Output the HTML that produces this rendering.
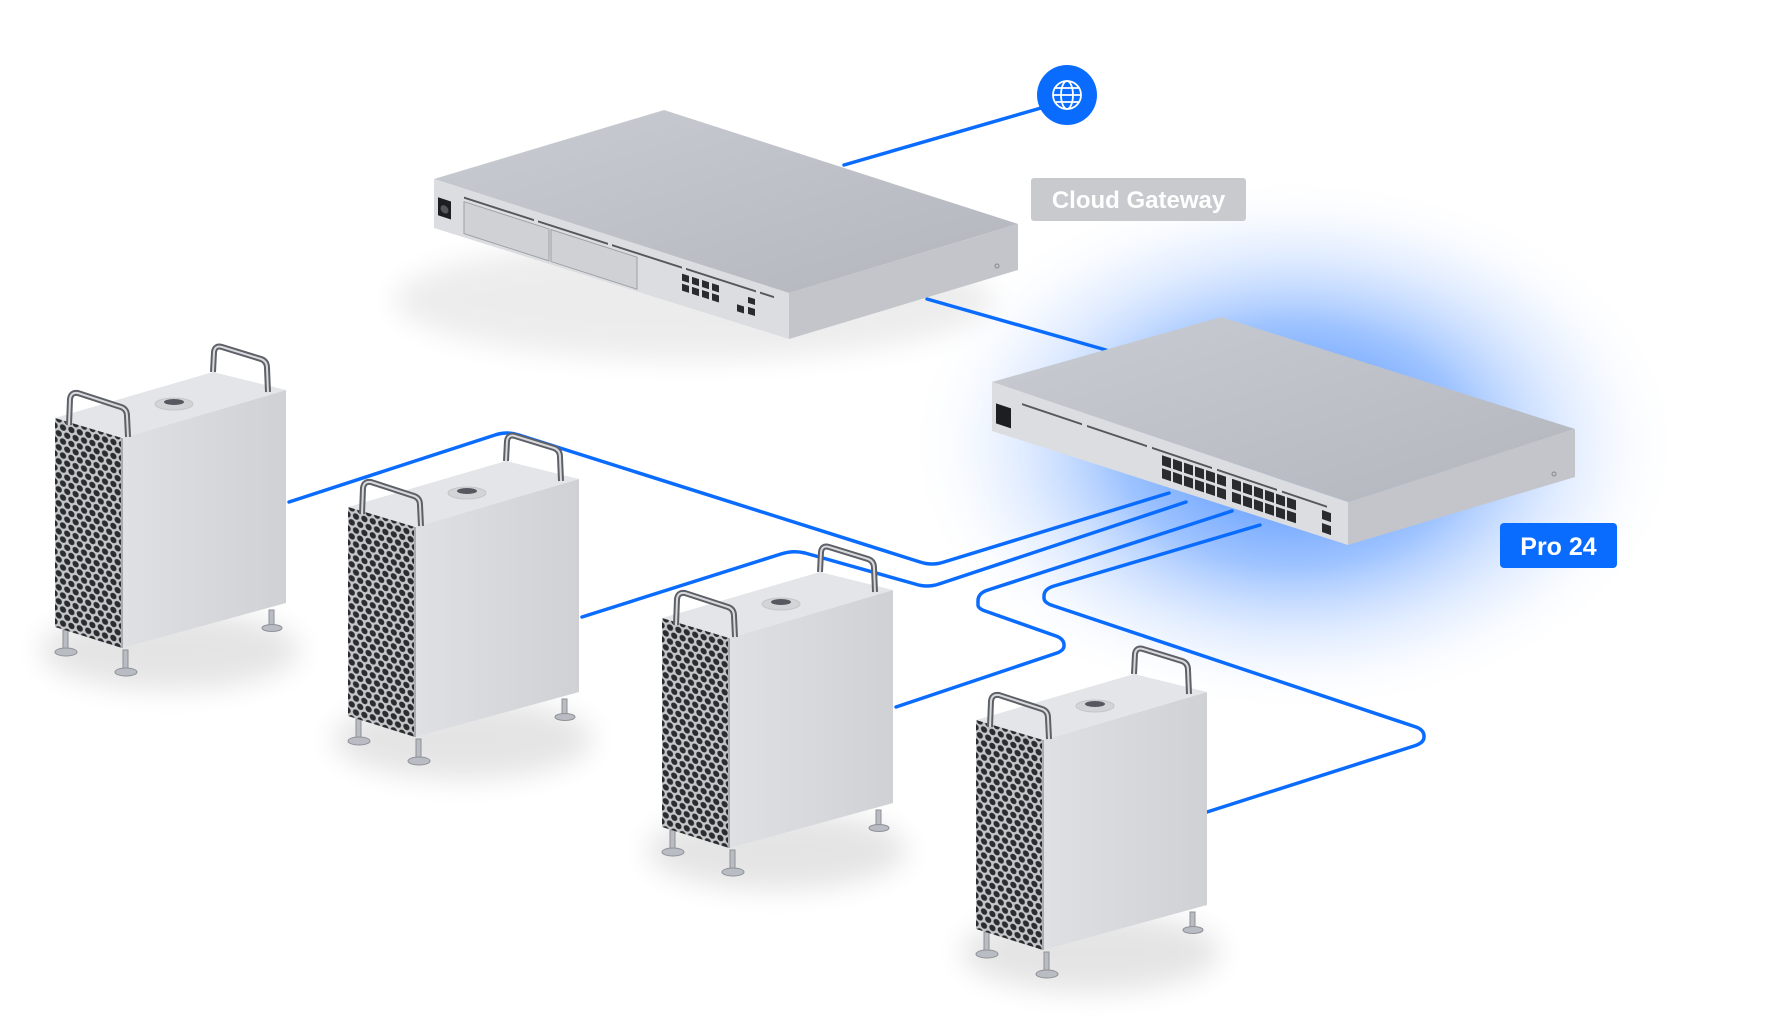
<!DOCTYPE html>
<html><head><meta charset="utf-8"><style>
html,body{margin:0;padding:0;background:#fff;width:1780px;height:1020px;overflow:hidden}
svg{display:block}
</style></head><body>
<svg width="1780" height="1020" viewBox="0 0 1780 1020" xmlns="http://www.w3.org/2000/svg">
<defs>
<radialGradient id="glow" cx="50%" cy="50%" r="50%">
<stop offset="0" stop-color="#2f7bff" stop-opacity="0.95"/>
<stop offset="0.45" stop-color="#5d9bff" stop-opacity="0.6"/>
<stop offset="0.75" stop-color="#a9c9ff" stop-opacity="0.25"/>
<stop offset="1" stop-color="#ffffff" stop-opacity="0"/>
</radialGradient>
<filter id="blur" x="-50%" y="-50%" width="200%" height="200%"><feGaussianBlur stdDeviation="14"/></filter>
<linearGradient id="topg" x1="0" y1="0" x2="1" y2="1">
<stop offset="0" stop-color="#c9ccd2"/><stop offset="1" stop-color="#b3b6bd"/></linearGradient>
<linearGradient id="sideg" x1="0" y1="0" x2="1" y2="0">
<stop offset="0" stop-color="#dfe0e3"/><stop offset="1" stop-color="#cfd1d5"/></linearGradient>
<pattern id="holes" width="8.4" height="14" patternUnits="userSpaceOnUse" patternTransform="skewY(16)">
<rect width="8.4" height="14" fill="#c4c6ca"/>
<circle cx="4.2" cy="3.5" r="3.1" fill="#2a2c30"/>
<circle cx="0" cy="10.5" r="3.1" fill="#2a2c30"/>
<circle cx="8.4" cy="10.5" r="3.1" fill="#2a2c30"/>
</pattern>
<g id="mac">
<ellipse cx="170" cy="650" rx="130" ry="40" fill="#000" opacity="0.10" filter="url(#blur)"/>
<g fill="#b9bcc2" stroke="#8e9197" stroke-width="1">
<rect x="63" y="630" width="5" height="22"/><ellipse cx="66" cy="652" rx="11" ry="4"/>
<rect x="123" y="650" width="5" height="22"/><ellipse cx="126" cy="672" rx="11" ry="4"/>
<rect x="269" y="610" width="5" height="18"/><ellipse cx="272" cy="628" rx="10" ry="3.5"/>
</g>
<polygon points="122,438 286,390 286,603 122,648" fill="url(#sideg)"/>
<polygon points="55,418 213,372 286,390 122,438" fill="#e4e5e8"/>
<ellipse cx="174" cy="404" rx="19" ry="6" fill="#d2d4d8" stroke="#c4c6ca"/>
<ellipse cx="174" cy="402" rx="10" ry="3" fill="#55585e"/>
<polygon points="55,418 122,438 122,648 55,627" fill="url(#holes)"/>
<line x1="122" y1="438" x2="122" y2="648" stroke="#a9acb1" stroke-width="2"/>
<path d="M69,425 L70,399 Q71,392 78,393 L121,407 Q127,409 127,416 L128,437" fill="none" stroke="#5d6066" stroke-width="6"/>
<path d="M69,425 L70,399 Q71,392 78,393 L121,407 Q127,409 127,416 L128,437" fill="none" stroke="#d7d9dd" stroke-width="2"/>
<path d="M213,372 L214,352 Q215,345 222,347 L261,359 Q267,361 267,368 L268,392" fill="none" stroke="#5d6066" stroke-width="6"/>
<path d="M213,372 L214,352 Q215,345 222,347 L261,359 Q267,361 267,368 L268,392" fill="none" stroke="#d7d9dd" stroke-width="2"/>
</g>
</defs>
<rect width="1780" height="1020" fill="#fff"/>
<ellipse cx="1294" cy="445" rx="390" ry="270" fill="url(#glow)"/>

<g transform="translate(-6,0)">
<ellipse cx="700" cy="300" rx="300" ry="60" fill="#000" opacity="0.07" filter="url(#blur)"/>

<g fill="none" stroke="#0a6cff" stroke-width="3.5" stroke-linejoin="round" stroke-linecap="round">
<path d="M1047,108 L850,165"/>
<path d="M933,299 L1112,350"/>
<path d="M1175,493 L950,562 Q938,566 926,562 L525,435 Q513,431 501,435 L295,502"/>
<path d="M1192,502 L945,584 Q933,588 921,584 L811,553 Q799,550 787,554 L588,617"/>
<path d="M1238,511 L994,590 Q984,593 984,601 L984,605 Q984,609 994,612 L1062,636 Q1070,639 1070,645 L1070,646 Q1070,651 1060,654 L902,707"/>
<path d="M1266,525 L1060,586 Q1050,589 1050,596 L1050,598 Q1050,603 1060,606 L1422,727 Q1430,730 1430,736 L1430,737 Q1430,743 1420,746 L1213,812"/>
</g>

<polygon points="440,179 670,110 1024,224 795,293" fill="url(#topg)"/>
<polygon points="440,179 795,293 795,339 440,228" fill="#dcdde1"/>
<polygon points="795,293 1024,224 1024,270 795,339" fill="#c3c5ca"/>
<g transform="translate(440,179) skewY(17.8)">
<rect x="4" y="17" width="13" height="18" fill="#1d1e21"/>
<circle cx="10.5" cy="27" r="4" fill="#555"/>
<rect x="30" y="13" width="85" height="32" fill="#cfd1d5" stroke="#9da0a6"/>
<rect x="117" y="13" width="86" height="32" fill="#cfd1d5" stroke="#9da0a6"/>
<line x1="30" y1="9" x2="340" y2="9" stroke="#54575c" stroke-width="2" stroke-dasharray="70 4"/>
<g fill="#2a2b2e">
<rect x="248" y="15" width="7" height="7"/><rect x="258" y="15" width="7" height="7"/><rect x="268" y="15" width="7" height="7"/><rect x="278" y="15" width="7" height="7"/>
<rect x="248" y="25" width="7" height="7"/><rect x="258" y="25" width="7" height="7"/><rect x="268" y="25" width="7" height="7"/><rect x="278" y="25" width="7" height="7"/>
<rect x="303" y="28" width="7" height="7"/><rect x="314" y="17" width="7" height="6"/><rect x="314" y="27" width="7" height="7"/>
</g>
</g>
<circle cx="1003" cy="266" r="2" fill="none" stroke="#888"/>

<polygon points="998,382 1227,317 1581,429 1354,502" fill="url(#topg)"/>
<polygon points="998,382 1354,502 1354,545 998,431" fill="#dcdde1"/>
<polygon points="1354,502 1581,429 1581,477 1354,545" fill="#c3c5ca"/>
<g transform="translate(998,382) skewY(18.6)">
<rect x="4" y="20" width="15" height="20" fill="#1d1e21"/>
<line x1="30" y1="12" x2="335" y2="12" stroke="#54575c" stroke-width="2" stroke-dasharray="60 5"/>
<g fill="#2a2b2e">
<rect x="170" y="16" width="9" height="10"/><rect x="181" y="16" width="9" height="10"/><rect x="192" y="16" width="9" height="10"/><rect x="203" y="16" width="9" height="10"/><rect x="214" y="16" width="9" height="10"/><rect x="225" y="16" width="9" height="10"/><rect x="240" y="16" width="9" height="10"/><rect x="251" y="16" width="9" height="10"/><rect x="262" y="16" width="9" height="10"/><rect x="273" y="16" width="9" height="10"/><rect x="284" y="16" width="9" height="10"/><rect x="295" y="16" width="9" height="10"/>
<rect x="170" y="29" width="9" height="10"/><rect x="181" y="29" width="9" height="10"/><rect x="192" y="29" width="9" height="10"/><rect x="203" y="29" width="9" height="10"/><rect x="214" y="29" width="9" height="10"/><rect x="225" y="29" width="9" height="10"/><rect x="240" y="29" width="9" height="10"/><rect x="251" y="29" width="9" height="10"/><rect x="262" y="29" width="9" height="10"/><rect x="273" y="29" width="9" height="10"/><rect x="284" y="29" width="9" height="10"/><rect x="295" y="29" width="9" height="10"/>
<rect x="330" y="17" width="9" height="9"/><rect x="330" y="30" width="9" height="9"/>
</g>
</g>
<circle cx="1560" cy="474" r="2" fill="none" stroke="#888"/>

<circle cx="1073" cy="95" r="30" fill="#0a6cff"/>
<g fill="none" stroke="#fff" stroke-width="1.8">
<circle cx="1073" cy="95" r="14"/>
<ellipse cx="1073" cy="95" rx="6" ry="14"/>
<line x1="1059" y1="95" x2="1087" y2="95"/>
<line x1="1061" y1="88" x2="1085" y2="88"/>
<line x1="1061" y1="102" x2="1085" y2="102"/>
</g>

<rect x="1037" y="178" width="215" height="43" rx="3" fill="#c8cace"/>
<text x="1144.5" y="208" text-anchor="middle" font-family="Liberation Sans, sans-serif" font-size="24" font-weight="bold" fill="#fff">Cloud Gateway</text>
</g>

<use href="#mac"/>
<use href="#mac" transform="translate(293,89)"/>
<use href="#mac" transform="translate(607,200)"/>
<use href="#mac" transform="translate(921,302)"/>

<rect x="1500" y="523" width="117" height="45" rx="4" fill="#0a6cff"/>
<text x="1558.5" y="555" text-anchor="middle" font-family="Liberation Sans, sans-serif" font-size="25" font-weight="bold" fill="#fff">Pro 24</text>
</svg>
</body></html>
